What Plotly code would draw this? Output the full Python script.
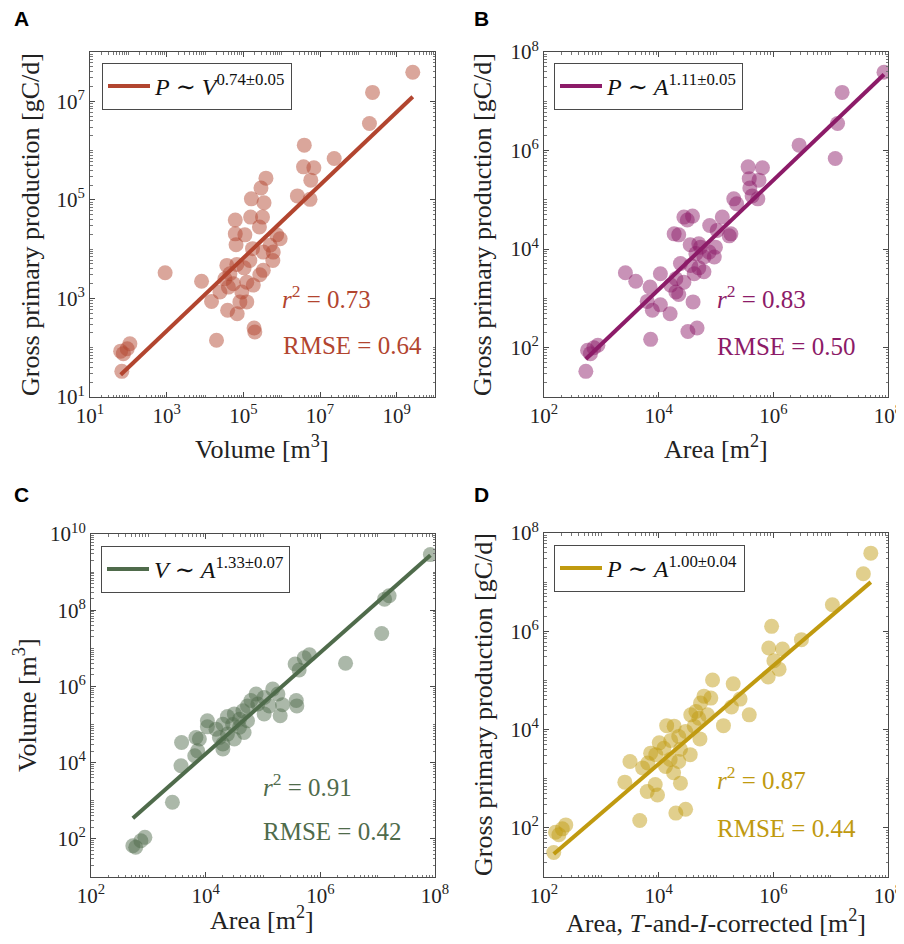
import numpy as np
import plotly.graph_objects as go

# The page body adds an 8 px margin, so the figure is drawn 8 px smaller and
# every reference pixel position is shifted by that amount.
OFF = 8
W, H = 904 - OFF, 944 - OFF

# ---------------- data (log10 values) ----------------
# Panel A: volume [m^3] vs gross primary production [gC/d]
A_vol_log = [9.42, 8.37, 8.29, 6.59, 7.37, 6.57, 6.84, 6.76, 6.41, 6.74, 5.59, 5.46, 5.21, 5.54,
             4.79, 5.19, 5.50, 4.79, 5.42, 5.04, 4.81, 5.87, 5.96, 5.70, 5.78, 5.52, 5.24, 5.77,
             4.57, 4.83, 5.17, 5.02, 5.52, 5.43, 4.65, 4.52, 4.74, 5.09, 5.26, 4.61, 4.39, 4.96,
             4.17, 4.91, 5.09, 4.59, 4.84, 2.96, 3.91, 4.30, 5.28, 5.30, 1.80, 1.97, 2.04, 1.87, 1.83]
A_gpp_log = [7.59, 7.18, 6.55, 6.11, 5.84, 5.67, 5.65, 5.40, 5.08, 5.01, 5.44, 5.24, 5.02, 4.94,
             4.59, 4.65, 4.65, 4.31, 4.45, 4.29, 4.09, 4.29, 4.21, 4.08, 3.94, 3.94, 4.01, 3.77,
             3.67, 3.69, 3.77, 3.62, 3.57, 3.48, 3.50, 3.40, 3.30, 3.33, 3.27, 3.23, 3.13, 3.13,
             2.94, 2.93, 2.93, 2.76, 2.69, 3.52, 3.35, 2.15, 2.40, 2.32, 1.93, 1.98, 2.08, 1.88, 1.52]

# Panel B: area [m^2] vs gross primary production [gC/d]
B_area_log = [7.93, 7.20, 7.12, 7.08, 6.45, 5.56, 5.81, 5.58, 5.75, 5.59, 5.63, 5.73, 5.31, 5.36,
              4.44, 4.59, 4.50, 5.11, 4.27, 4.35, 4.89, 5.02, 5.26, 5.23, 4.55, 4.70, 4.73, 4.99,
              4.88, 4.97, 4.79, 4.65, 4.38, 4.56, 4.70, 4.79, 4.62, 4.03, 3.42, 3.60, 4.30, 4.21,
              4.44, 3.85, 4.30, 4.35, 3.80, 4.03, 3.89, 4.20, 4.60, 4.51, 4.67, 3.86, 2.76, 2.87,
              2.94, 2.81, 2.73]
B_gpp_log = [7.59, 7.18, 6.55, 5.84, 6.11, 5.67, 5.65, 5.43, 5.40, 5.24, 5.08, 5.02, 5.02, 4.92,
             4.65, 4.67, 4.59, 4.65, 4.31, 4.29, 4.48, 4.38, 4.31, 4.27, 4.09, 4.11, 4.04, 4.04,
             3.94, 3.84, 3.84, 3.91, 3.71, 3.67, 3.62, 3.54, 3.50, 3.50, 3.52, 3.35, 3.40, 3.27,
             3.33, 3.23, 3.13, 3.08, 2.94, 2.87, 2.76, 2.69, 2.93, 2.33, 2.40, 2.17, 1.95, 2.00,
             2.05, 1.88, 1.52]

# Panel C: area [m^2] vs volume [m^3]
C_area_log = [7.92, 7.12, 7.20, 7.07, 6.44, 5.56, 5.63, 5.72, 5.81, 5.17, 5.26, 5.34, 5.58, 5.59,
              5.30, 4.88, 5.02, 4.79, 4.73, 4.91, 5.11, 4.65, 4.50, 4.38, 4.59, 4.73, 4.47, 4.30,
              4.59, 4.67, 4.18, 4.03, 4.38, 4.24, 4.50, 4.30, 4.30, 3.83, 3.89, 3.58, 3.86, 3.81,
              3.57, 3.42, 2.73, 2.78, 2.87, 2.94, 4.03, 5.02]
C_vol_log = [9.46, 8.29, 8.38, 7.39, 6.61, 6.59, 6.43, 6.75, 6.83, 5.93, 5.80, 5.52, 5.63, 5.49,
             5.23, 5.80, 5.71, 5.63, 5.49, 5.54, 5.49, 5.36, 5.28, 5.21, 5.14, 5.10, 5.00, 5.01,
             4.93, 4.79, 4.88, 4.94, 4.75, 4.66, 4.62, 4.49, 4.36, 4.66, 4.62, 4.53, 4.31, 4.18,
             3.92, 2.96, 1.82, 1.78, 1.95, 2.04, 5.10, 5.28]

# Panel D: temperature- and irradiance-corrected area [m^2] vs gross primary production [gC/d]
D_area_log = [7.70, 7.57, 7.03, 5.97, 6.49, 5.92, 6.16, 6.01, 6.10, 5.91, 4.94, 5.30, 5.42, 5.27,
              5.58, 5.13, 4.79, 4.91, 4.73, 4.65, 4.56, 4.85, 4.70, 4.62, 4.14, 4.27, 4.47, 4.35,
              4.21, 4.72, 4.01, 4.09, 4.38, 3.86, 3.95, 4.55, 3.50, 4.20, 4.35, 3.72, 4.12, 4.26,
              3.41, 3.94, 4.38, 3.80, 3.98, 4.30, 4.47, 3.67, 2.20, 2.32, 2.38, 2.26, 2.17, 3.81]
D_gpp_log = [7.59, 7.17, 6.54, 6.10, 5.83, 5.66, 5.64, 5.40, 5.23, 5.07, 5.01, 4.93, 4.62, 4.46,
             4.30, 4.08, 4.68, 4.64, 4.54, 4.37, 4.30, 4.30, 4.23, 4.07, 4.08, 4.07, 3.96, 3.86,
             3.78, 3.81, 3.73, 3.62, 3.60, 3.52, 3.49, 3.49, 3.35, 3.39, 3.35, 3.22, 3.25, 3.12,
             2.93, 2.88, 2.91, 2.74, 2.67, 2.30, 2.38, 2.15, 1.91, 1.98, 2.06, 1.86, 1.50, 3.32]

# fitted power laws (log10 slope, log10 intercept)
fit_slopes = [0.74, 1.11, 1.33, 1.00]
fit_intercepts = [0.12, -1.26, -1.09, -0.70]
fit_labels = ["<i>P</i> ∼ <i>V</i><sup>0.74±0.05</sup>",
              "<i>P</i> ∼ <i>A</i><sup>1.11±0.05</sup>",
              "<i>V</i> ∼ <i>A</i><sup>1.33±0.07</sup>",
              "<i>P</i> ∼ <i>A</i><sup>1.00±0.04</sup>"]
r2_values = ["0.73", "0.83", "0.91", "0.87"]
rmse_values = ["0.64", "0.50", "0.42", "0.44"]
panel_letters = ["A", "B", "C", "D"]
x_titles = ["Volume [m<sup>3</sup>]", "Area [m<sup>2</sup>]", "Area [m<sup>2</sup>]",
            "Area, <i>T</i>-and-<i>I</i>-corrected [m<sup>2</sup>]"]
y_titles = ["Gross primary production [gC/d]", "Gross primary production [gC/d]",
            "Volume [m<sup>3</sup>]", "Gross primary production [gC/d]"]
x_ranges = [[1, 10], [2, 8], [2, 8], [2, 8]]
y_ranges = [[1, 8], [1, 8], [1, 10], [1, 8]]
x_tick_exps = [[1, 3, 5, 7, 9], [2, 4, 6, 8], [2, 4, 6, 8], [2, 4, 6, 8]]
y_tick_exps = [[1, 3, 5, 7], [2, 4, 6, 8], [2, 4, 6, 8, 10], [2, 4, 6, 8]]

line_colors = ["#B2452F", "#8C1B68", "#4F6B4B", "#C09A10"]

# ---------------- layout geometry (reference pixels) ----------------
plot_boxes = [(90, 435, 52, 397), (544, 888, 52, 397), (91, 435, 534, 877), (544, 888, 533, 877)]
legend_pos = [(102, 63), (554, 63), (101, 546), (554, 545)]
r2_pos = [(280, 297), (715, 297), (261, 785), (715, 778)]
rmse_pos = [(281, 345), (715, 346), (261, 831), (715, 828)]
xt_pos = [(262, 447), (716, 447), (262, 918), (716, 921)]
yt_pos = [(30, 225), (482, 224), (25, 705), (483, 705)]
letter_pos = [(21, 19), (481, 19), (21, 494), (481, 494)]

SERIF = "'Liberation Serif', 'Times New Roman', 'DejaVu Serif', serif"
datasets = [(A_vol_log, A_gpp_log), (B_area_log, B_gpp_log), (C_area_log, C_vol_log),
            (D_area_log, D_gpp_log)]

def px2x(p):
    return (p - OFF) / W

def px2y(p):
    return 1 - (p - OFF) / H

def rgba(hexc, a):
    hexc = hexc.lstrip("#")
    r, g, b = int(hexc[0:2], 16), int(hexc[2:4], 16), int(hexc[4:6], 16)
    return f"rgba({r},{g},{b},{a})"

fig = go.Figure()
annotations = []
layout_kw = {}

for i in range(4):
    xs = "" if i == 0 else str(i + 1)
    xref, yref = "x" + xs, "y" + xs
    lx, ly = datasets[i]
    xv = [10 ** v for v in lx]
    yv = [10 ** v for v in ly]
    col = line_colors[i]

    fig.add_trace(go.Scatter(
        x=xv, y=yv, mode="markers", xaxis=xref, yaxis=yref, showlegend=False,
        marker=dict(size=15, color=rgba(col, 0.48), line=dict(width=0)),
        hoverinfo="skip"))

    xmin, xmax = min(lx), max(lx)
    fx = [10 ** xmin, 10 ** xmax]
    fy = [10 ** (fit_intercepts[i] + fit_slopes[i] * xmin),
          10 ** (fit_intercepts[i] + fit_slopes[i] * xmax)]
    legname = "legend" if i == 0 else f"legend{i + 1}"
    fig.add_trace(go.Scatter(
        x=fx, y=fy, mode="lines", xaxis=xref, yaxis=yref, name=fit_labels[i],
        line=dict(color=col, width=4), legend=legname, showlegend=True))

    x0, x1, y0, y1 = plot_boxes[i]
    axis_common = dict(
        type="log", showline=True, mirror="ticks", linecolor="#4a4a4a", linewidth=1,
        ticks="inside", ticklen=5, tickcolor="#4a4a4a", tickwidth=1,
        showgrid=False, zeroline=False, automargin=False,
        tickfont=dict(family=SERIF, size=21, color="#222"),
        minor=dict(ticks="inside", ticklen=2.5, tickcolor="#777", dtick="D1", showgrid=False),
    )
    layout_kw["xaxis" + xs] = dict(
        axis_common, domain=[px2x(x0), px2x(x1)], range=x_ranges[i], anchor=yref,
        tickmode="array", tickvals=[10 ** e for e in x_tick_exps[i]],
        ticktext=[f"10<sup>{e}</sup>" for e in x_tick_exps[i]])
    layout_kw["yaxis" + xs] = dict(
        axis_common, domain=[px2y(y1), px2y(y0)], range=y_ranges[i], anchor=xref,
        tickmode="array", tickvals=[10 ** e for e in y_tick_exps[i]],
        ticktext=[f"10<sup>{e}</sup>" for e in y_tick_exps[i]])

    lpx, lpy = legend_pos[i]
    layout_kw[legname] = dict(
        x=px2x(lpx), y=px2y(lpy), xanchor="left", yanchor="top",
        bordercolor="#4a4a4a", borderwidth=1, bgcolor="white",
        font=dict(family=SERIF, size=24, color="#111"),
        itemwidth=42, tracegroupgap=0)

    ax_, ay_ = r2_pos[i]
    annotations.append(dict(
        x=px2x(ax_), y=px2y(ay_), xref="paper", yref="paper", xanchor="left", yanchor="middle",
        text=f"<i>r</i><sup>2</sup> = {r2_values[i]}", showarrow=False,
        font=dict(family=SERIF, size=25, color=col)))
    ax_, ay_ = rmse_pos[i]
    annotations.append(dict(
        x=px2x(ax_), y=px2y(ay_), xref="paper", yref="paper", xanchor="left", yanchor="middle",
        text=f"RMSE = {rmse_values[i]}", showarrow=False,
        font=dict(family=SERIF, size=25, color=col)))
    ax_, ay_ = xt_pos[i]
    annotations.append(dict(
        x=px2x(ax_), y=px2y(ay_), xref="paper", yref="paper", xanchor="center", yanchor="middle",
        text=x_titles[i], showarrow=False,
        font=dict(family=SERIF, size=26, color="#222")))
    ax_, ay_ = yt_pos[i]
    annotations.append(dict(
        x=px2x(ax_), y=px2y(ay_), xref="paper", yref="paper", xanchor="center", yanchor="middle",
        text=y_titles[i], showarrow=False, textangle=-90,
        font=dict(family=SERIF, size=26, color="#222")))
    ax_, ay_ = letter_pos[i]
    annotations.append(dict(
        x=px2x(ax_), y=px2y(ay_), xref="paper", yref="paper", xanchor="center", yanchor="middle",
        text=f"<b>{panel_letters[i]}</b>", showarrow=False,
        font=dict(family="'Liberation Sans', Arial, sans-serif", size=21, color="black")))

fig.update_layout(
    width=W, height=H, margin=dict(l=0, r=0, t=0, b=0, pad=0),
    paper_bgcolor="white", plot_bgcolor="white",
    annotations=annotations, **layout_kw)

fig.write_html("out.html")
